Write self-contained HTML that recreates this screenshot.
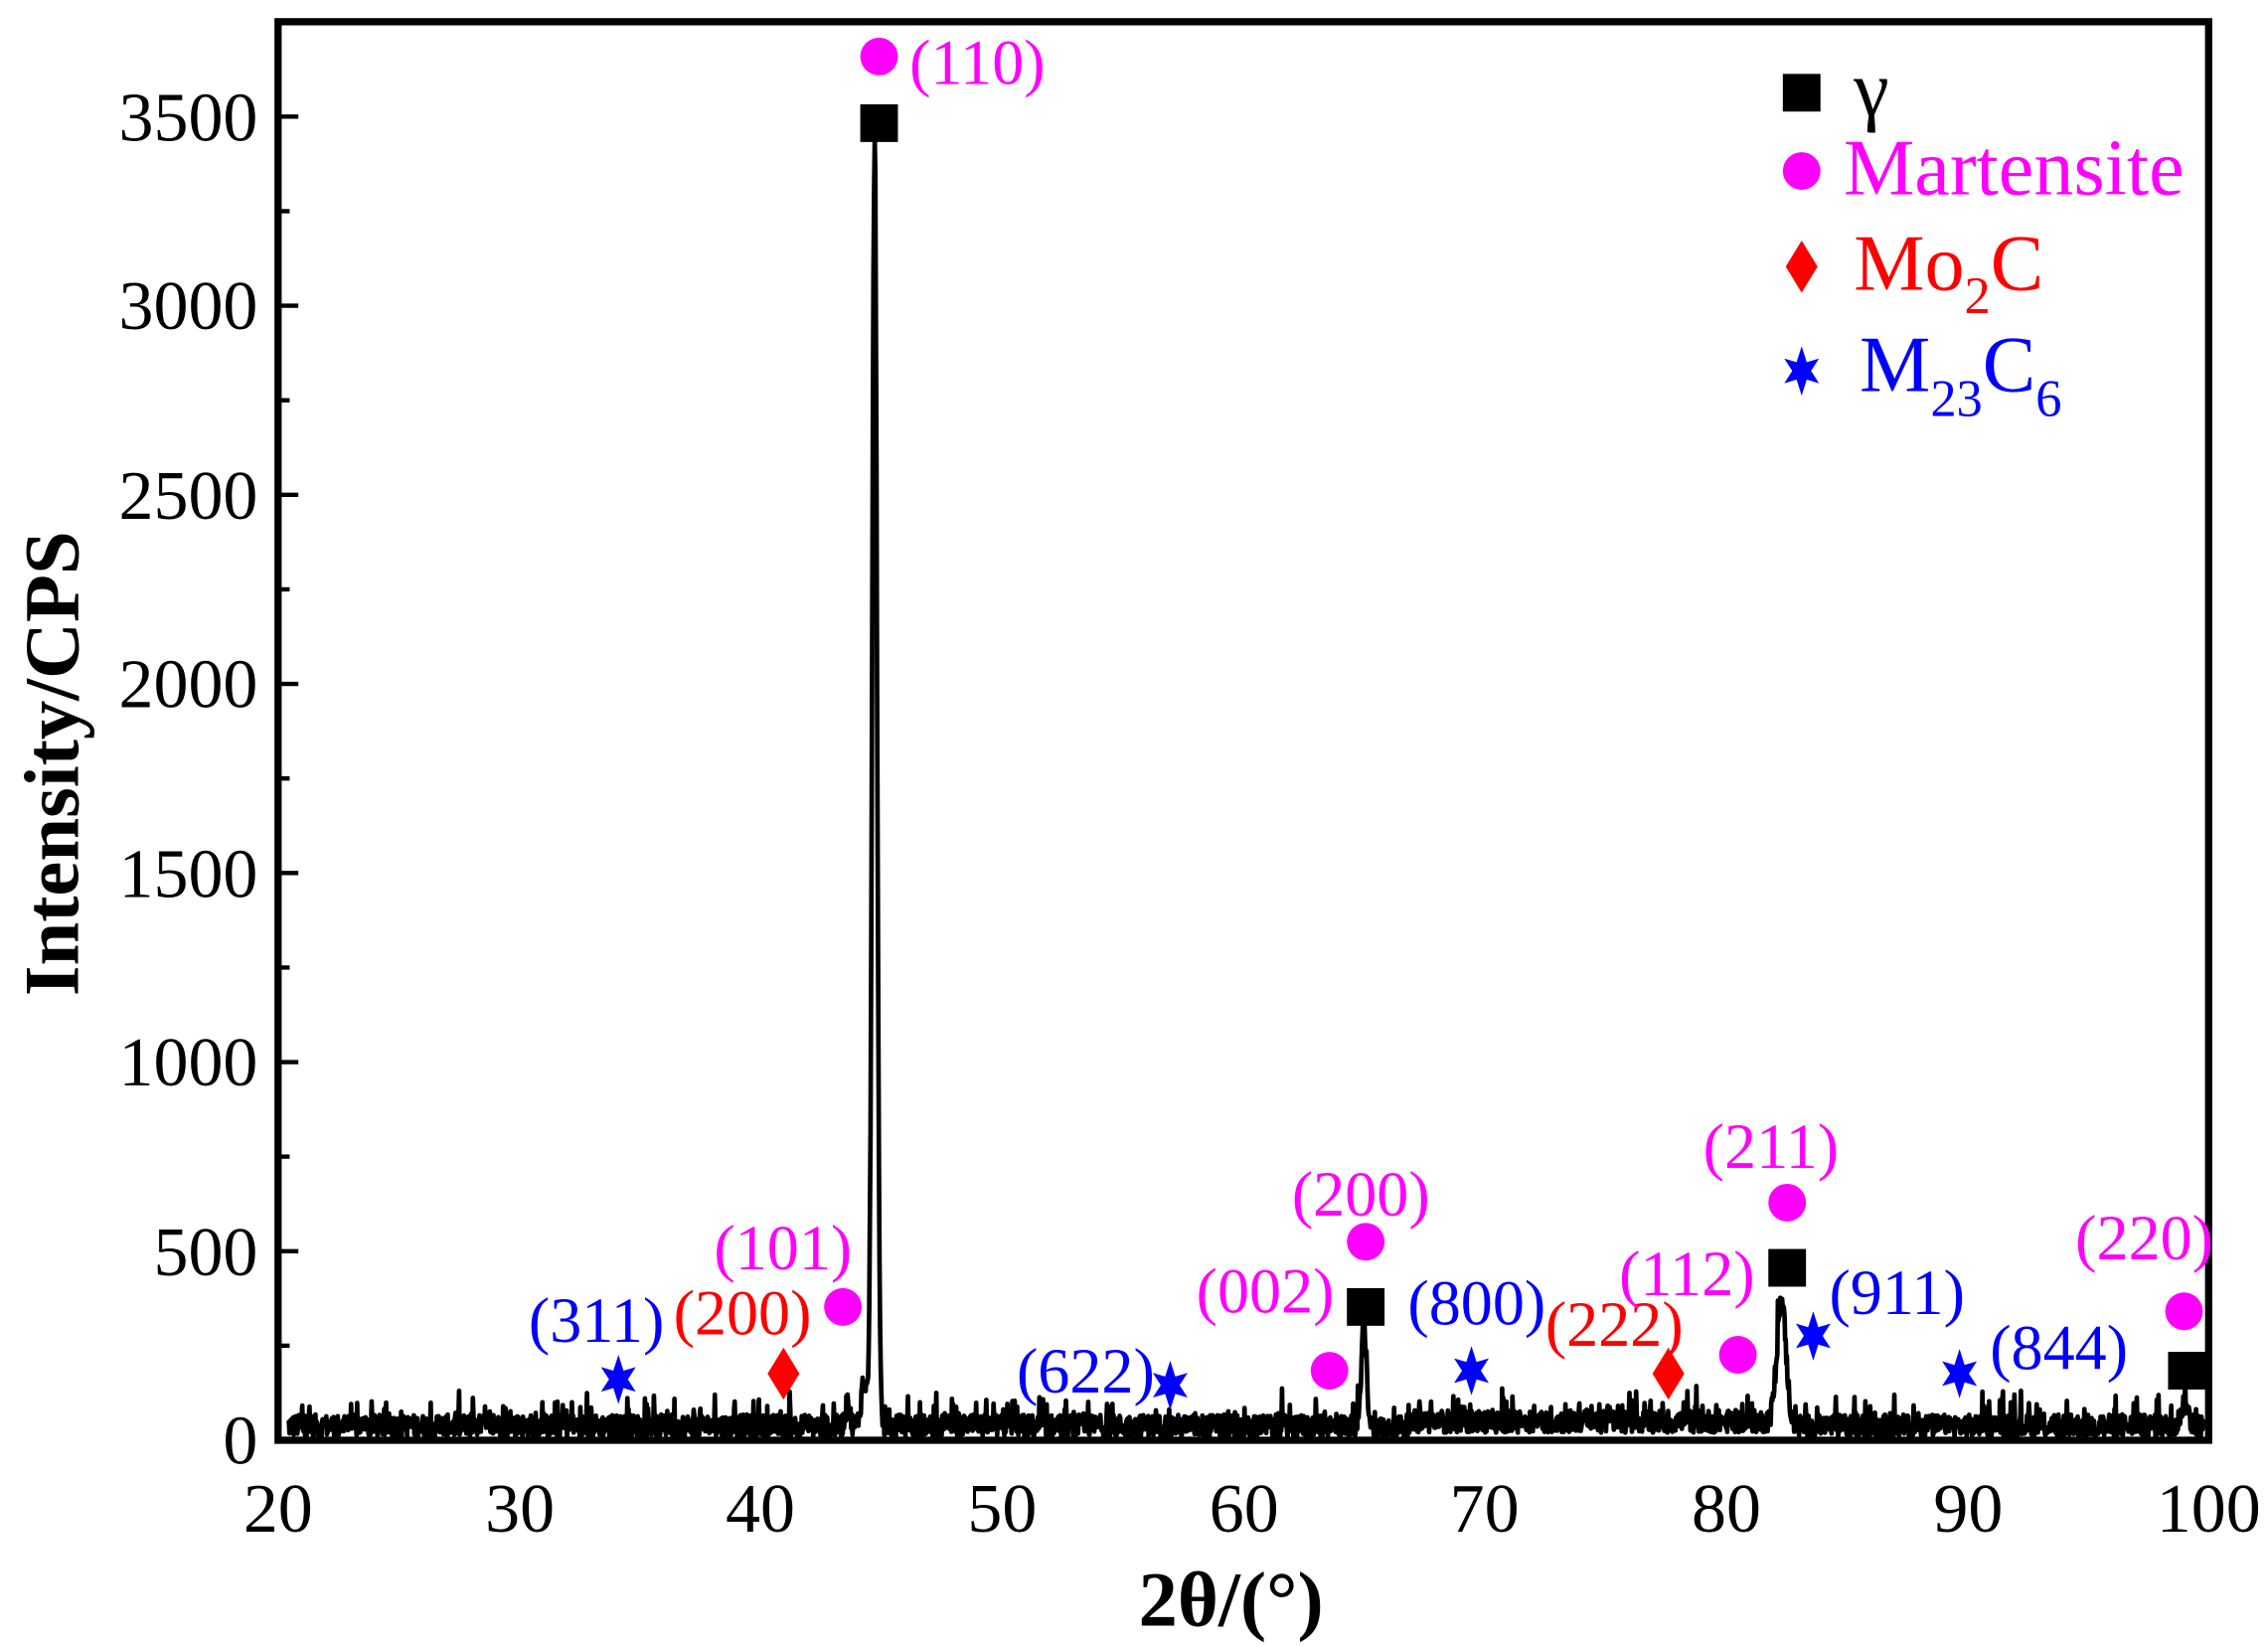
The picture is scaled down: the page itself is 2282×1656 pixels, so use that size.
<!DOCTYPE html>
<html><head><meta charset="utf-8"><style>html,body{margin:0;padding:0;background:#fff}svg{display:block}</style></head>
<body>
<svg id="s" xmlns="http://www.w3.org/2000/svg" width="2282" height="1656" viewBox="0 0 1566 1136" preserveAspectRatio="none" font-family="Liberation Serif, serif">
<rect width="1566" height="1136" fill="#fff"/>
<defs>
<polygon id="star" points="0,-17 3.5,-6 12,-8.5 6.5,0 12,8.5 3.5,6 0,17 -3.5,6 -12,8.5 -6.5,0 -12,-8.5 -3.5,-6" fill="#0000ff"/>
<polygon id="dia" points="0,-18 11,0 0,18 -11,0" fill="#ff0000"/>
<rect id="sq" x="-13" y="-13" width="26" height="26" fill="#000"/>
<circle id="ci" r="13" fill="#ff00ff"/>
</defs>
<path id="data" fill="none" stroke="#000" stroke-width="3.2" stroke-linejoin="round"/>
<g id="ticks" stroke="#000" stroke-width="3"></g>
<rect x="192" y="15" width="1333" height="979" fill="none" stroke="#000" stroke-width="5"/>
<g font-size="48" text-anchor="end" fill="#000">
<text x="178" y="97">3500</text><text x="178" y="227">3000</text><text x="178" y="358">2500</text>
<text x="178" y="488">2000</text><text x="178" y="619">1500</text><text x="178" y="749">1000</text>
<text x="178" y="880">500</text><text x="178" y="1010">0</text>
</g>
<g font-size="48" text-anchor="middle" fill="#000">
<text x="192" y="1057">20</text><text x="359" y="1057">30</text><text x="525" y="1057">40</text>
<text x="692" y="1057">50</text><text x="859" y="1057">60</text><text x="1025" y="1057">70</text>
<text x="1192" y="1057">80</text><text x="1359" y="1057">90</text><text x="1525" y="1057">100</text>
</g>
<text x="850" y="1122" font-size="54" font-weight="bold" text-anchor="middle">2θ/(°)</text>
<text transform="translate(54,527) rotate(-90)" font-size="54" font-weight="bold" text-anchor="middle">Intensity/CPS</text>
<use href="#sq" x="1244" y="64"/><text x="1280" y="80" font-size="55">γ</text>
<use href="#ci" x="1244" y="118"/><text x="1273" y="134" font-size="55" fill="#ff00ff">Martensite</text>
<use href="#dia" x="1244" y="184"/><text x="1280" y="200" font-size="55" fill="#ff0000">Mo<tspan font-size="36" dy="16">2</tspan><tspan dy="-16">C</tspan></text>
<use href="#star" x="1244" y="256"/><text x="1284" y="270" font-size="55" fill="#0000ff">M<tspan font-size="36" dy="17">23</tspan><tspan dy="-17">C</tspan><tspan font-size="36" dy="17">6</tspan></text>
<use href="#ci" x="607" y="39"/><use href="#sq" x="607" y="85"/>
<use href="#ci" x="582" y="902"/><use href="#dia" x="541" y="948"/><use href="#star" x="427" y="952"/>
<use href="#star" x="808" y="956"/><use href="#ci" x="918" y="946"/><use href="#sq" x="943" y="902"/><use href="#ci" x="943" y="857"/>
<use href="#star" x="1016" y="946"/><use href="#dia" x="1152" y="948"/><use href="#ci" x="1200" y="935"/>
<use href="#sq" x="1234" y="875"/><use href="#ci" x="1234" y="830"/><use href="#star" x="1252" y="922"/>
<use href="#star" x="1353" y="948"/><use href="#ci" x="1508" y="905"/><use href="#sq" x="1510" y="946"/>
<g font-size="44">
<text x="628" y="58" fill="#ff00ff">(110)</text>
<text x="493" y="876" fill="#ff00ff">(101)</text>
<text x="465" y="921" fill="#ff0000">(200)</text>
<text x="365" y="926" fill="#0000ff">(311)</text>
<text x="702" y="961" fill="#0000ff">(622)</text>
<text x="826" y="906" fill="#ff00ff">(002)</text>
<text x="892" y="839" fill="#ff00ff">(200)</text>
<text x="972" y="914" fill="#0000ff">(800)</text>
<text x="1067" y="929" fill="#ff0000">(222)</text>
<text x="1118" y="894" fill="#ff00ff">(112)</text>
<text x="1176" y="806" fill="#ff00ff">(211)</text>
<text x="1263" y="907" fill="#0000ff">(911)</text>
<text x="1374" y="945" fill="#0000ff">(844)</text>
<text x="1433" y="869" fill="#ff00ff">(220)</text>
</g>
</svg>
<script>
(function(){
var X=function(t){return 192+(t-20)*16.6625;};
var Y=function(c){return 994-c*0.261;};
var s=12345;function r(){s=(s*1103515245+12345)%2147483648;return s/2147483648;}
var pk=[[44.72,3380,0.1],[44.3,120,0.13],[43.6,50,0.1],[65.0,260,0.11],[82.3,330,0.19],[99.0,60,0.15]];
var d="";
for(var t=20.4;t<=99.8;t+=0.025){
 var c=8+r()*60;if(r()<0.1)c+=r()*70;
 if(t>67&&t<82)c+=12;
 for(var i=0;i<pk.length;i++){var p=pk[i];var z=(t-p[0])/p[2];c+=p[1]*Math.exp(-0.5*z*z);}
 if(c<0)c=0;
 d+=(d?"L":"M")+X(t).toFixed(1)+" "+Math.min(Y(c),993).toFixed(1);
}
document.getElementById("data").setAttribute("d",d);
var g=document.getElementById("ticks"),h="";
for(var v=0;v<=3750;v+=250){var y=Y(v);var L=(v%500==0)?14:8;h+='<line x1="192" x2="'+(192+L)+'" y1="'+y+'" y2="'+y+'"/>';}
g.innerHTML=h;
})();
</script>
</body></html>
